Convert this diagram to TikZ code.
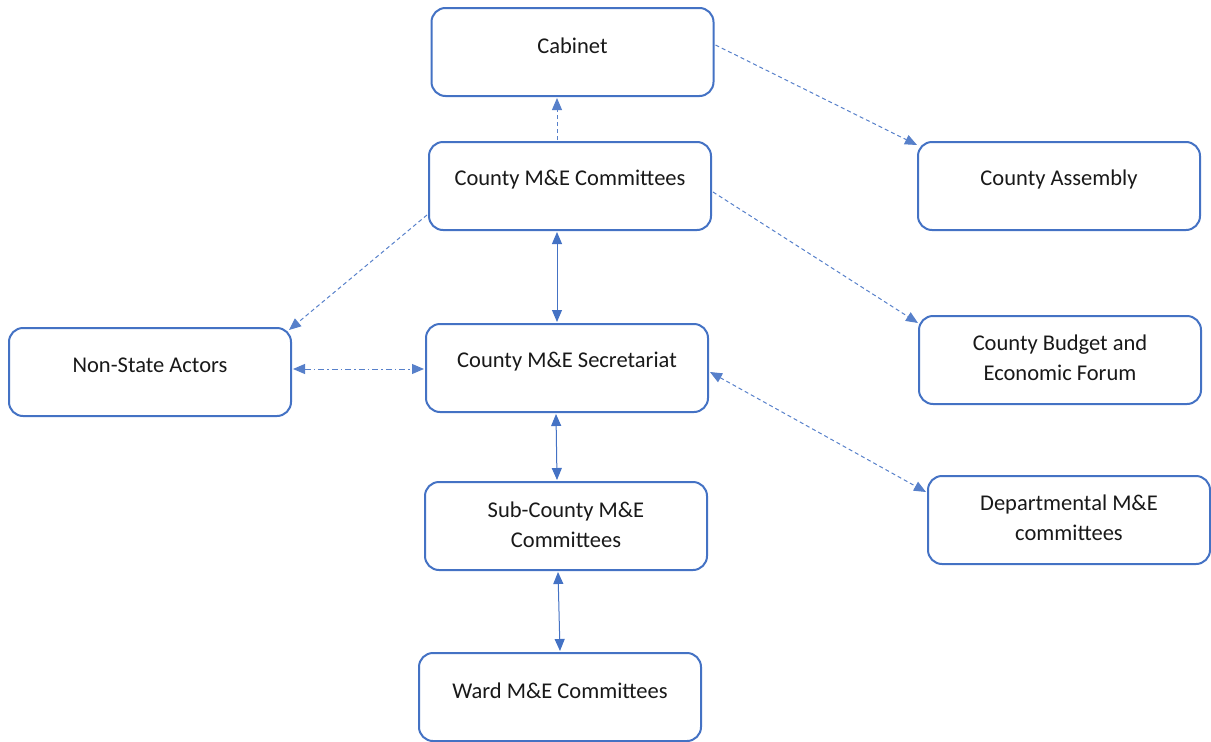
\documentclass[tikz,border=0pt]{standalone}
\usepackage{fontspec}
\setmainfont{Carlito}
\usetikzlibrary{arrows.meta,calc}
\definecolor{boxblue}{HTML}{4472C4}
\begin{document}
\begin{tikzpicture}[x=1pt,y=-1pt,
  >={Triangle[length=12pt,width=10pt]},
  box/.style={draw=boxblue,line width=2pt,rounded corners=14pt,minimum width=282pt,minimum height=88pt,inner sep=0pt,fill=white},
  lbl/.style={font=\fontsize{22.5pt}{30pt}\selectfont,align=center,inner sep=0pt,text=black!90},
  dline/.style={draw=boxblue!90,line width=1pt,dash pattern=on 4pt off 3pt},
  ddline/.style={draw=boxblue!90,line width=1pt,dash pattern=on 6pt off 3pt on 1.5pt off 3pt},
  sline/.style={draw=boxblue,line width=1pt}]
\useasboundingbox (0,0) rectangle (1211,742);
\node[box] (cab) at (572.5,52) {};
\node[lbl] (cabT) at ($(cab.center)+(0,-6.5)$) {Cabinet};
\node[box] (cmc) at (570,186) {};
\node[lbl] (cmcT) at ($(cmc.center)+(0,-6.5)$) {County M\&E Committees};
\node[box] (ca) at (1059,186) {};
\node[lbl] (caT) at ($(ca.center)+(0,-6.5)$) {County Assembly};
\node[box] (nsa) at (150,372) {};
\node[lbl] (nsaT) at ($(nsa.center)+(0,-6.5)$) {Non-State Actors};
\node[box] (sec) at (567,368) {};
\node[lbl] (secT) at ($(sec.center)+(0,-6.5)$) {County M\&E Secretariat};
\node[box] (cbef) at (1060,360) {};
\node[lbl] (cbefT) at ($(cbef.center)+(0,-2.5)$) {County Budget and\\Economic Forum};
\node[box] (sub) at (566,526) {};
\node[lbl] (subT) at ($(sub.center)+(0,-1.5)$) {Sub-County M\&E\\Committees};
\node[box] (dep) at (1069,520) {};
\node[lbl] (depT) at ($(dep.center)+(0,-2.5)$) {Departmental M\&E\\committees};
\node[box] (ward) at (560,697) {};
\node[lbl] (wardT) at ($(ward.center)+(0,-6.5)$) {Ward M\&E Committees};
% connectors
\draw[dline,->] ($(cmc.north)+(-13,-1)$) -- ($(cab.south)+(-15.5,1)$);
\draw[dline,->] ($(cab.east)+(1,-7)$) -- ($(ca.north west)+(0,4)$);
\draw[dline,->] ($(cmc.east)+(1,6)$) -- ($(cbef.north west)+(0,8)$);
\draw[dline,->] ($(cmc.west)+(-1,29)$) -- ($(nsa.north east)+(-3,3)$);
\draw[ddline,<->] ($(nsa.east)+(1,-3)$) -- ($(sec.west)+(-1,1)$);
\draw[sline,<->] ($(cmc.south)+(-13,1)$) -- ($(sec.north)+(-10,-1)$);
\draw[dline,<->] ($(sec.east)+(1,4)$) -- ($(dep.north west)+(-1,17)$);
\draw[sline,<->] ($(sec.south)+(-11,1)$) -- ($(sub.north)+(-9,-1)$);
\draw[sline,<->] ($(sub.south)+(-8,1)$) -- ($(ward.north)+(0,-1)$);
\end{tikzpicture}
\end{document}
